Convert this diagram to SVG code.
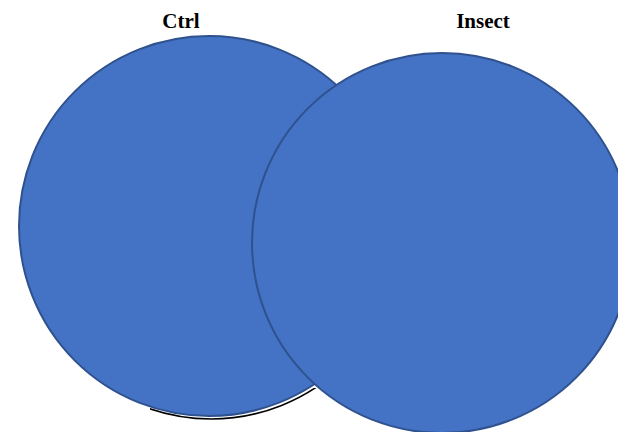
<svg xmlns="http://www.w3.org/2000/svg" width="618" height="432" viewBox="0 0 618 432">
<style>
.set{fill:#4472C4;stroke:#2F528F;stroke-width:2}
.lbl{font-family:"Liberation Serif","Times New Roman",serif;font-weight:bold;font-size:21px;fill:#000;text-anchor:middle}
</style>
<defs>
<clipPath id="sh"><rect x="150" y="388" width="180" height="44"/></clipPath>
</defs>
<rect width="618" height="432" fill="#fff"/>
<g id="shadow" clip-path="url(#sh)">
<circle cx="211" cy="229" r="190" fill="none" stroke="#000" stroke-width="1.6"/>
</g>
<g id="ctrl">
<circle class="set" cx="209" cy="226" r="190"/>
<text class="lbl" x="181" y="28">Ctrl</text>
</g>
<g id="insect">
<circle class="set" cx="442" cy="243" r="190"/>
<text class="lbl" x="483" y="28">Insect</text>
</g>
<g id="connectors"/>
</svg>
